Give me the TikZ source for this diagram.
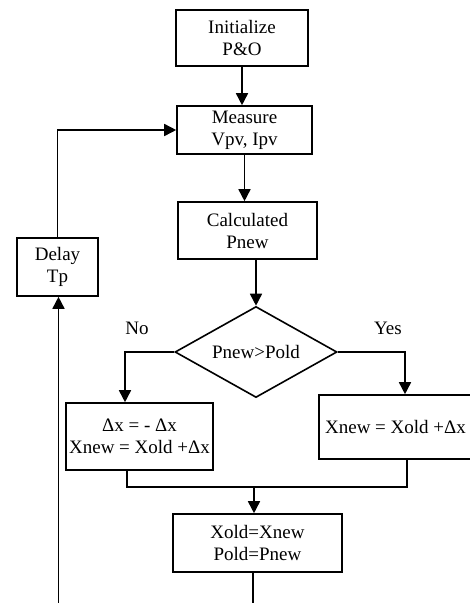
\documentclass[tikz,border=0pt]{standalone}
\usepackage{fontspec}
\setmainfont{Liberation Serif}
\usetikzlibrary{calc, shapes.geometric, arrows.meta}

\tikzset{
	box/.style = {draw, line width = 1.6pt, align = center, inner sep = 0pt},
	decision/.style = {draw, diamond, line width = 1.6pt, inner sep = 0pt, aspect = 1.78},
	flow/.style = {line width = 1.6pt, -{Triangle[length = 12pt, width = 12pt]}},
	link/.style = {line width = 1.6pt}
}

\begin{document}
\begin{tikzpicture}[x = 1pt, y = -1pt, font = \fontsize{19}{22}\selectfont]
		\useasboundingbox (0, 0) rectangle (470, 603);
		
		\node [box, minimum width = 132pt, minimum height = 56pt] (init) at (242, 38) {Initialize\\P\&O};
		\node [box, minimum width = 135pt, minimum height = 48pt] (measure) at (244.5, 130) {Measure\\Vpv, Ipv};
		\node [box, minimum width = 139pt, minimum height = 57pt] (calc) at (247.5, 230.5) {Calculated\\Pnew};
		\node [box, minimum width = 81pt, minimum height = 58pt] (delay) at (57.5, 267) {Delay\\Tp};
		
		\node [decision, minimum width = 162pt, minimum height = 91pt] (test) at (256, 352) {Pnew>Pold};
		\node (no) at (137, 328) {No};
		\node (yes) at (388, 328) {Yes};
		
		\node [box, minimum width = 147pt, minimum height = 67pt] (nobox) at (139.5, 436.5) {Δx = - Δx\hspace{16pt}\\Xnew = Xold +Δx};
		\node [box, minimum width = 153pt, minimum height = 64pt] (yesbox) at (395.5, 427) {Xnew = Xold +Δx};
		
		\node [box, minimum width = 169pt, minimum height = 58pt] (update) at (257.5, 543) {Xold=Xnew\\Pold=Pnew};
		
		\coordinate (join) at (254, 487);
		\coordinate (out) at (253, 603);
		\coordinate (back) at (58.5, 603);
		
		\draw [flow] (init.south) -- (init.south |- measure.north);
		\draw [flow] (measure.south) -- (measure.south |- calc.north);
		\draw [flow] (test.north |- calc.south) -- (test.north);
		
		\draw [flow] (test.west) -| ([xshift = -14.5pt] nobox.north);
		\draw [flow] (test.east) -| ([xshift = 9.5pt] yesbox.north);
		
		\draw [link] ([xshift = -12.5pt] nobox.south) |- (join) -| ([xshift = 11.5pt] yesbox.south);
		\draw [flow] (join) -- (join |- update.north);
		\draw [link] (update.south -| out) -- (out);
		
		\draw [flow] (back) -- (back |- delay.south);
		\draw [flow] (delay.north) |- (measure.west);
	\end{tikzpicture}
\end{document}
